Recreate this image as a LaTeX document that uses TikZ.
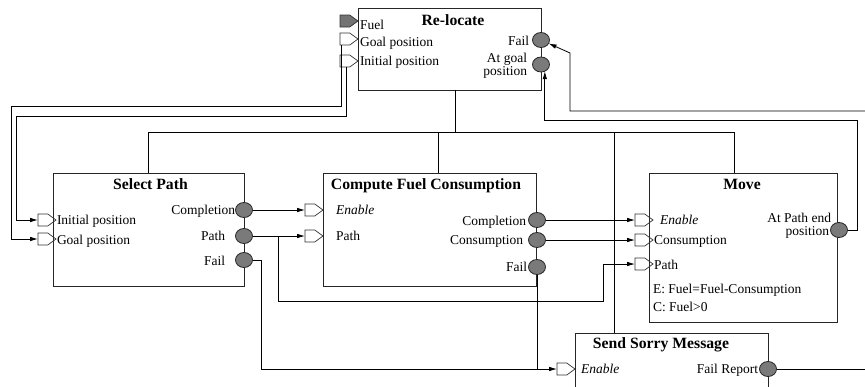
\documentclass[tikz,border=0pt]{standalone}
\usepackage{fontspec}
\setmainfont{Liberation Serif}
\usetikzlibrary{shapes.symbols,shapes.geometric,arrows.meta,calc}
\begin{document}
\begin{tikzpicture}[x=1pt,y=-1pt,
  every node/.style={inner sep=0pt, outer sep=0pt},
  lbl/.style={font=\fontsize{13.5}{15}\selectfont},
  ilbl/.style={font=\fontsize{13.5}{15}\selectfont\itshape},
  ttl/.style={font=\fontsize{15.7}{18}\selectfont\bfseries},
  box/.style={draw=black!85, line width=0.9pt, rectangle},
  port/.style={signal, signal to=east, signal pointer angle=72, draw=black!80, line width=0.7pt, minimum width=18, minimum height=12},
  fport/.style={port, fill=black!55},
  outp/.style={ellipse, draw=black!85, fill=black!52, line width=0.8pt, minimum width=17, minimum height=15},
  wire/.style={draw=black, line width=0.8pt},
  conn/.style={wire, -{Latex[length=8pt,width=4.5pt]}},
]
\clip (0,0) rectangle (865,386);
\fill[white] (0,0) rectangle (865,386);

% ---------- boxes ----------
\node[box, minimum width=183, minimum height=82] (rl) at (449.5,49) {};
\node[box, minimum width=191, minimum height=113] (sp) at (148.5,229.5) {};
\node[box, minimum width=213, minimum height=113] (cf) at (429.5,229.5) {};
\node[box, minimum width=188, minimum height=149] (mv) at (743,247.5) {};
\node[box, minimum width=193, minimum height=67] (ss) at (671.5,366.5) {};

% ---------- titles ----------
\node[ttl, anchor=base] (trl) at (453,25) {Re-locate};
\node[ttl, anchor=base] (tsp) at (150.5,189) {Select Path};
\node[ttl, anchor=base] (tcf) at (426,189) {Compute Fuel Consumption};
\node[ttl, anchor=base] (tmv) at (742,189) {Move};
\node[ttl, anchor=base] (tss) at (661,348) {Send Sorry Message};

% ---------- bus ----------
\coordinate (busL) at (148.5,132);
\coordinate (busR) at (734,132);
\draw[wire] (sp.north) -- (busL) -- (busR) -- (mv.north -| busR);
\draw[wire] (rl.south -| 455,0) -- (455,132);
\draw[wire] (cf.north -| 438,0) -- (438,132);
\draw[wire] (ss.north -| 614,0) -- (614,132);

% ---------- helper coordinates ----------
\coordinate (g1) at (11,106);
\coordinate (g2) at (16,116);
\coordinate (j1) at (278,236);
\coordinate (k1) at (603,301);
\coordinate (j2) at (261,260);
\coordinate (c2) at (857,120);
\coordinate (c3) at (570,53);
\coordinate (e1) at (865,111);
\coordinate (e2) at (865,369);

% ---------- ports: Re-locate ----------
\node[fport, anchor=east] (rlfuel) at (358,21) {};
\node[port, anchor=east] (rlgoal) at (358,39) {};
\node[port, anchor=east] (rlinit) at (358,61) {};
\node[outp] (rlfail) at (541,40) {};
\node[outp] (rlatgoal) at (541,64.5) {};

% ---------- ports: Select Path ----------
\node[port, anchor=east] (spinit) at (56,220) {};
\node[port, anchor=east] (spgoal) at (56,239) {};
\node[outp] (spcomp) at (244,210) {};
\node[outp] (sppath) at (244,236) {};
\node[outp] (spfail) at (244,260) {};

% ---------- ports: Compute Fuel Consumption ----------
\node[port, anchor=east] (cfenable) at (323,210) {};
\node[port, anchor=east] (cfpath) at (323,236) {};
\node[outp] (cfcomp) at (537,220) {};
\node[outp] (cfcons) at (537,240) {};
\node[outp] (cffail) at (537,267) {};

% ---------- ports: Move ----------
\node[port, anchor=east] (mvenable) at (653,220) {};
\node[port, anchor=east] (mvcons) at (653,240) {};
\node[port, anchor=east] (mvpath) at (653,264) {};
\node[outp] (mvend) at (839,230) {};

% ---------- ports: Send Sorry Message ----------
\node[port, anchor=east] (ssenable) at (575,369) {};
\node[outp] (ssfr) at (768,369) {};

% ---------- connectors ----------
\draw[conn] ([xshift=-3pt]rlgoal.south) |- (g1) |- (spgoal.west);
\draw[conn] ([xshift=2pt]rlinit.south) |- (g2) |- (spinit.west);
\draw[conn] (spcomp.east) -- (cfenable.west);
\draw[conn] (sppath.east) -- (cfpath.west);
\draw[conn] (j1) |- (k1) |- (mvpath.west);
\draw[conn] (spfail.east) -- (j2) |- (ssenable.west);
\draw[wire] (cffail.south) -- (cffail.south |- ssenable.west);
\draw[conn] (cfcomp.east) -- (mvenable.west);
\draw[conn] (cfcons.east) -- (mvcons.west);
\draw[conn] (mvend.east) -| (c2) -| (rlatgoal.-60);
\draw[conn] (e1) -| (c3) -- (rlfail);
\draw[wire] (ssfr.east) -- (e2);

% ---------- labels ----------
\node[lbl, anchor=base west] (lrl1) at (360,29) {Fuel};
\node[lbl, anchor=base west] (lrl2) at (360,46) {Goal position};
\node[lbl, anchor=base west] (lrl3) at (360,65) {Initial position};
\node[lbl, anchor=base east] (lrl4) at (529,45) {Fail};
\node[lbl, anchor=base east] (lrl5) at (527,62) {At goal};
\node[lbl, anchor=base east] (lrl6) at (527,75) {position};

\node[lbl, anchor=base west] (lsp1) at (57,224) {Initial position};
\node[lbl, anchor=base west] (lsp2) at (57,244) {Goal position};
\node[lbl, anchor=base east] (lsp3) at (235,214) {Completion};
\node[lbl, anchor=base east] (lsp4) at (225,240) {Path};
\node[lbl, anchor=base east] (lsp5) at (225,265) {Fail};

\node[ilbl, anchor=base west] (lcf1) at (336,214) {Enable};
\node[lbl, anchor=base west] (lcf2) at (336,240) {Path};
\node[lbl, anchor=base east] (lcf3) at (526,225) {Completion};
\node[lbl, anchor=base east] (lcf4) at (523,244) {Consumption};
\node[lbl, anchor=base east] (lcf5) at (527,271) {Fail};

\node[ilbl, anchor=base west] (lmv1) at (660,224) {Enable};
\node[lbl, anchor=base west] (lmv2) at (654,244) {Consumption};
\node[lbl, anchor=base west] (lmv3) at (654,269) {Path};
\node[lbl, anchor=base west] (lmv4) at (653,293) {E: Fuel=Fuel-Consumption};
\node[lbl, anchor=base west] (lmv5) at (653,311) {C: Fuel>0};
\node[lbl, anchor=base east] (lmv6) at (831,222) {At Path end};
\node[lbl, anchor=base east] (lmv7) at (829,235) {position};

\node[ilbl, anchor=base west] (lss1) at (581,373) {Enable};
\node[lbl, anchor=base east] (lss2) at (758,373) {Fail Report};
\end{tikzpicture}
\end{document}
